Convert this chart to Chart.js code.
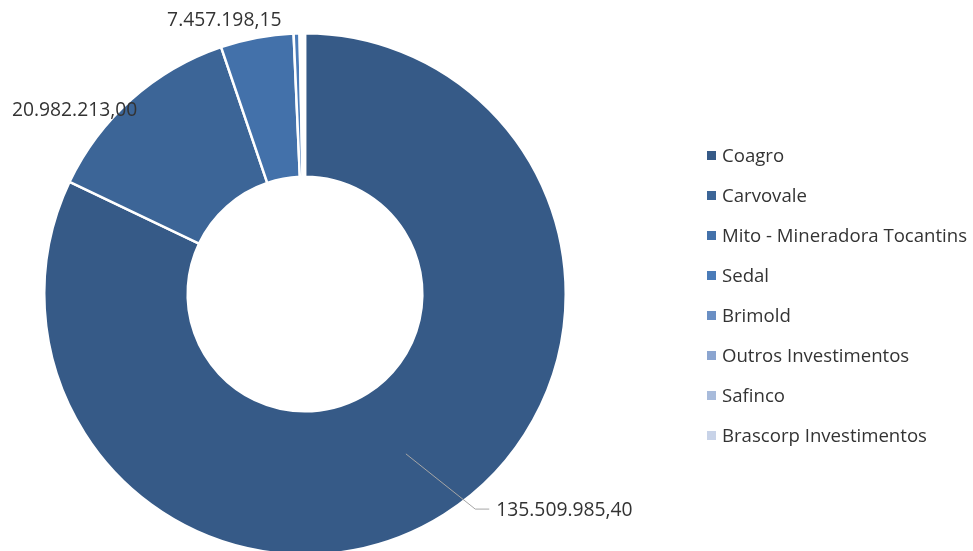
<!DOCTYPE html>
<html>
<head>
<meta charset="utf-8">
<script src="https://cdn.jsdelivr.net/npm/chart.js@4"></script>
<style>
  html, body { margin: 0; padding: 0; background: #fff; overflow: hidden; }
  #wrap { position: relative; width: 973px; height: 551px; overflow: hidden; }
  #chart { position: absolute; left: 0; top: 0; }
  #legend { position: absolute; left: 707px; top: 141px; font-family: "Open Sans", sans-serif; font-size: 18.6px; color: #333; }
  #legend div { height: 40px; line-height: 28px; white-space: nowrap; }
  #legend span { display: inline-block; width: 9px; height: 9px; margin-right: 6px; vertical-align: 2px; }
</style>
</head>
<body>
<div id="wrap">
  <canvas id="chart" width="973" height="570"></canvas>
  <div id="legend"></div>
</div>
<script>
var labels = ["Coagro", "Carvovale", "Mito - Mineradora Tocantins", "Sedal", "Brimold", "Outros Investimentos", "Safinco", "Brascorp Investimentos"];
var values = [135509985.40, 20982213.00, 7457198.15, 600000, 250000, 150000, 100000, 50000];
var colors = ["#365A87", "#3C6597", "#4371AA", "#4A7BB8", "#6A8FC4", "#8BA5D0", "#A8BBDB", "#C8D3E8"];

// which slices get a value label, and how to place it
var labelSpots = [
  { i: 0, r: 0.725, leader: true, er: 1.052, ea: -6.1, tail: 14 },
  { i: 1, r: 0.945, align: "right", dx: -4, dy: 1 },
  { i: 2, r: 1.05, align: "right", dx: 27, dy: -4 }
];

var fmt = function (v) {
  return v.toLocaleString('pt-BR', { minimumFractionDigits: 2, maximumFractionDigits: 2 });
};

var legend = document.getElementById('legend');
labels.forEach(function (l, k) {
  var d = document.createElement('div');
  d.innerHTML = '<span style="background:' + colors[k] + '"></span>' + l;
  legend.appendChild(d);
});

var valueLabels = {
  id: 'valueLabels',
  afterDatasetsDraw: function (chart) {
    var ctx = chart.ctx;
    var meta = chart.getDatasetMeta(0);
    ctx.save();
    ctx.font = '19.3px "Open Sans", sans-serif';
    ctx.fillStyle = '#333';
    ctx.textBaseline = 'middle';
    labelSpots.forEach(function (s) {
      var arc = meta.data[s.i];
      var mid = (arc.startAngle + arc.endAngle) / 2;
      var R = arc.outerRadius;
      var px = arc.x + Math.cos(mid) * R * s.r;
      var py = arc.y + Math.sin(mid) * R * s.r;
      var txt = fmt(values[s.i]);
      if (s.leader) {
        var ea = mid + s.ea * Math.PI / 180;
        var ex = arc.x + Math.cos(ea) * R * s.er;
        var ey = arc.y + Math.sin(ea) * R * s.er;
        ctx.strokeStyle = '#a6a6a6';
        ctx.lineWidth = 1;
        ctx.beginPath();
        ctx.moveTo(px, py);
        ctx.lineTo(ex, ey);
        ctx.lineTo(ex + s.tail, ey);
        ctx.stroke();
        ctx.textAlign = 'left';
        ctx.fillText(txt, ex + s.tail + 7, ey + 1);
      } else {
        ctx.textAlign = s.align;
        ctx.fillText(txt, px + s.dx, py + s.dy);
      }
    });
    ctx.restore();
  }
};

var ctx = document.getElementById("chart");
var myDoughnutChart = new Chart(ctx, {
  type: 'doughnut',
  data: {
    labels: labels,
    datasets: [{
      data: values,
      backgroundColor: colors,
      borderColor: '#ffffff',
      borderWidth: 2.5
    }]
  },
  options: {
    responsive: false,
    animation: false,
    cutout: '45%',
    layout: { padding: { left: 43, top: 32, right: 406, bottom: 14 } },
    plugins: {
      legend: { display: false },
      tooltip: { enabled: false }
    }
  },
  plugins: [valueLabels]
});
</script>
</body>
</html>
